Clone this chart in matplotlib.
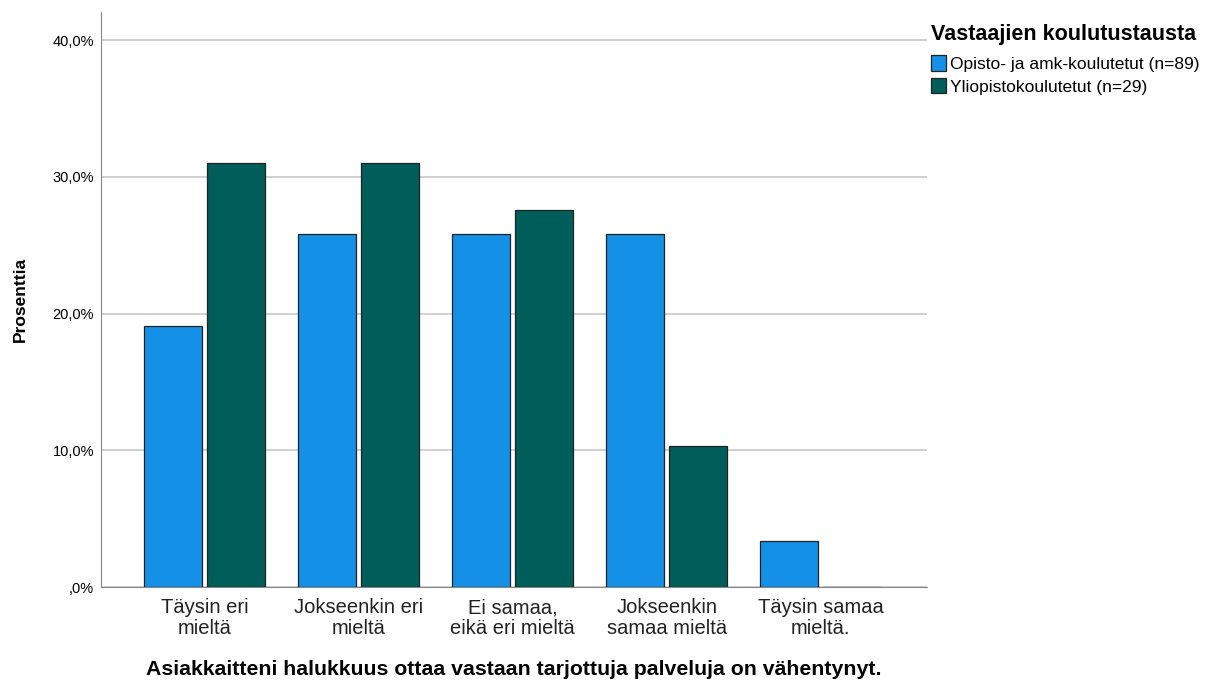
import matplotlib
matplotlib.use('Agg')
import matplotlib.pyplot as plt
import numpy as np
from matplotlib.patches import Patch

plt.rcParams['font.family'] = ['Liberation Sans', 'DejaVu Sans']

categories = ['Täysin eri\nmieltä', 'Jokseenkin eri\nmieltä', 'Ei samaa,\neikä eri mieltä',
              'Jokseenkin\nsamaa mieltä', 'Täysin samaa\nmieltä.']
opisto = [19.1, 25.8, 25.8, 25.8, 3.4]
yliopisto = [31.0, 31.0, 27.6, 10.3, 0.0]
series_names = ['Opisto- ja amk-koulutetut (n=89)', 'Yliopistokoulutetut (n=29)']
yticks = [0, 10, 20, 30, 40]
ytick_labels = [',0%', '10,0%', '20,0%', '30,0%', '40,0%']

blue = '#1490e6'
green = '#005e5a'

fig = plt.figure(figsize=(12.05, 6.84), dpi=100)
ax = fig.add_axes([0.0838, 0.1418, 0.6855, 0.8407])

x = np.arange(len(categories))
w = 0.377
off = 0.205
ax.bar(x - off, opisto, w, color=blue, edgecolor='#222222', linewidth=0.9, zorder=3)
ax.bar(x + off, yliopisto, w, color=green, edgecolor='#222222', linewidth=0.9, zorder=3)

ax.set_xlim(-0.675, 4.69)
ax.set_ylim(0, 42.05)
ax.set_yticks(yticks)
ax.set_yticklabels(ytick_labels, fontsize=10.5)
ax.set_xticks(x)
ax.set_xticklabels(categories, fontsize=14.5, color='#222222', linespacing=1.1)
ax.tick_params(axis='y', length=0, pad=5)
ax.tick_params(axis='x', length=0, pad=8)
ax.yaxis.grid(True, color='#c8c8c8', linewidth=1.2, zorder=0)
for s in ['top', 'right']:
    ax.spines[s].set_visible(False)
ax.spines['left'].set_color('#888888')
ax.spines['bottom'].set_color('#888888')

ax.set_ylabel('Prosenttia', fontsize=12.5, fontweight='bold', labelpad=18)
ax.set_xlabel('Asiakkaitteni halukkuus ottaa vastaan tarjottuja palveluja on vähentynyt.',
              fontsize=15.3, fontweight='bold', labelpad=16)

handles = [Patch(facecolor=blue, edgecolor='#222222', linewidth=0.9),
           Patch(facecolor=green, edgecolor='#222222', linewidth=0.9)]
leg = fig.legend(handles, series_names, loc='upper left', bbox_to_anchor=(0.768, 0.972),
                 frameon=False, fontsize=12.5, title='Vastaajien koulutustausta',
                 title_fontproperties={'weight': 'bold', 'size': 15.5},
                 handlelength=0.9, handleheight=1.0, handletextpad=0.2, labelspacing=0.35,
                 borderaxespad=0, borderpad=0.3)
leg._legend_box.align = 'left'
leg._legend_box.sep = 7

fig.savefig('out.png', dpi=100)
